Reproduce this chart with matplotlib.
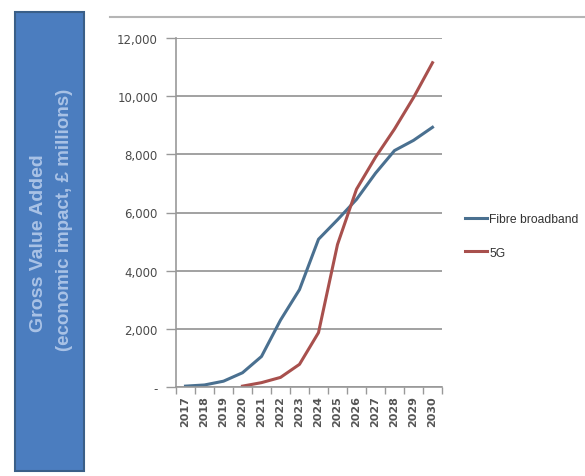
import matplotlib
matplotlib.use("Agg")
import matplotlib.pyplot as plt
from matplotlib.patches import Rectangle
from matplotlib.lines import Line2D
from matplotlib.ticker import FuncFormatter, FixedLocator

years = ["2017", "2018", "2019", "2020", "2021", "2022", "2023",
         "2024", "2025", "2026", "2027", "2028", "2029", "2030"]
fibre_years = years
fibre_gva = [30, 70, 200, 490, 1050, 2300, 3350, 5080, 5750, 6450,
             7350, 8130, 8480, 8930]
g5_years = years[3:]
g5_gva = [30, 150, 330, 780, 1870, 4900, 6800, 7900, 8870, 9950, 11150]
yticks = [0, 2000, 4000, 6000, 8000, 10000, 12000]

W, H = 585, 477
fig = plt.figure(figsize=(W / 100, H / 100), dpi=100)

# side panel with the axis title
panel = Rectangle((15 / W, 1 - 472 / H), 69 / W, (472 - 13) / H,
                  transform=fig.transFigure, facecolor="#4b7dbf",
                  edgecolor="#3a5f88", linewidth=1.5)
fig.add_artist(panel)
fig.text(39 / W, 1 - 243 / H, "Gross Value Added", rotation=90,
         ha="center", va="center", color="#a9c2e6", fontsize=14,
         fontweight="bold", family="Liberation Sans")
fig.text(65 / W, 1 - 220 / H, "(economic impact, £ millions)", rotation=90,
         ha="center", va="center", color="#a9c2e6", fontsize=13.5,
         fontweight="bold", family="Liberation Sans")

# thin rule across the top
fig.add_artist(Line2D([110 / W, 1.0], [1 - 18 / H, 1 - 18 / H],
                      transform=fig.transFigure, color="#b5b5b5", lw=1.5))

ax = fig.add_axes([176 / W, 1 - 388 / H, (442 - 176) / W, (388 - 39) / H])
xi = {y: i for i, y in enumerate(years)}
ax.plot([xi[y] for y in fibre_years], fibre_gva, color="#4a7090", lw=2.2,
        label="Fibre broadband")
ax.plot([xi[y] for y in g5_years], g5_gva, color="#a8504d", lw=2.2,
        label="5G")

ax.set_xlim(-0.5, len(years) - 0.5)
ax.set_ylim(0, 12000)
ax.set_yticks(yticks)
ax.yaxis.set_major_formatter(FuncFormatter(lambda v, p: "-" if v == 0 else f"{int(v):,}"))
ax.yaxis.grid(True, color="#9a9a9a", lw=1.3)
ax.set_axisbelow(True)

ax.set_xticks(range(len(years)))
ax.set_xticklabels(years, rotation=90, fontsize=8, fontweight="bold",
                   color="#555555", family="DejaVu Sans")
ax.tick_params(axis="x", which="major", length=0, pad=6)
ax.xaxis.set_minor_locator(FixedLocator([i - 0.5 for i in range(len(years) + 1)]))
ax.tick_params(axis="x", which="minor", length=5, color="#999999", width=1)
ax.tick_params(axis="y", length=7, color="#999999", width=1, labelsize=8.5,
               labelcolor="#4a4a4a", pad=6)

for s in ("top", "right"):
    ax.spines[s].set_visible(False)
for s in ("left", "bottom"):
    ax.spines[s].set_color("#999999")
    ax.spines[s].set_linewidth(1.2)

leg = fig.legend(loc="upper left", bbox_to_anchor=(454 / W, 1 - 203 / H),
                 frameon=False, handlelength=1.8, handletextpad=0.2,
                 labelspacing=1.8, prop={"family": "Liberation Sans", "size": 8.7})
for t in leg.get_texts():
    t.set_color("#333333")

fig.savefig("out.png", dpi=100)
